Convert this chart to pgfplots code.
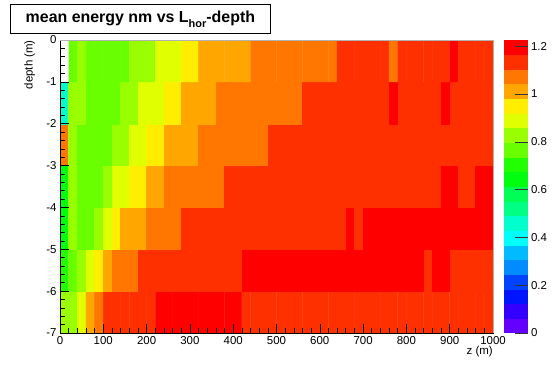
\documentclass[border=0pt]{standalone}
\usepackage{fontspec}
\setmainfont{Liberation Sans}
\usepackage{pgfplots}
\pgfplotsset{compat=1.18}

\pgfplotsset{
  every axis/.append style={/pgf/number format/assume math mode=true, /pgf/number format/1000 sep={}},
  every tick label/.append style={font=\fontsize{11.5}{12}\selectfont},
}

\begin{document}
\begin{tikzpicture}
\useasboundingbox (0,0) rectangle (552bp,374bp);
\begin{axis}[
  name=main,
  at={(60bp,41bp)}, anchor=south west,
  scale only axis, width=433bp, height=293bp,
  xmin=0, xmax=1000, ymin=-7, ymax=0,
  enlargelimits=false,
  axis on top,
  xtick={0,100,...,1000}, ytick={-7,-6,...,0},
  minor x tick num=4, minor y tick num=4,
  tick align=inside, xtick pos=bottom, ytick pos=left,
  major tick length=9bp, minor tick length=4.8bp,
  tick style={black, line width=0.6bp},
  axis line style={line width=0.7bp},
  label style={font=\fontsize{11.5}{12}\selectfont},
  xlabel={z (m)}, ylabel={depth (m)},
  xlabel style={at={(axis description cs:1,-0.045)}, anchor=north east, inner sep=0pt},
  ylabel style={at={(axis description cs:-0.057,1)}, anchor=south east, inner sep=0pt},
  colormap={root}{
    rgb255=(99,0,255) rgb255=(51,0,255) rgb255=(0,20,255) rgb255=(0,68,255)
    rgb255=(0,139,255) rgb255=(0,187,255) rgb255=(0,255,251) rgb255=(0,255,204)
    rgb255=(0,255,133) rgb255=(0,255,85) rgb255=(0,255,14) rgb255=(34,255,0)
    rgb255=(105,255,0) rgb255=(153,255,0) rgb255=(224,255,0) rgb255=(255,238,0)
    rgb255=(255,167,0) rgb255=(255,119,0) rgb255=(255,48,0) rgb255=(255,0,0)},
  colormap access=piecewise constant,
  point meta min=0, point meta max=1.226,
  colorbar,
  colorbar style={
    at={(parent axis.north east)}, anchor=north west, xshift=2bp,
    width=24bp,
    axis on top,
    ytick={0,0.2,0.4,0.6,0.8,1,1.2},
    minor y tick num=0,
    yticklabel pos=right, ytick pos=right,
    tick align=inside,
    major tick length=13bp,
    tick style={black!80, line width=0.6bp},
    axis line style={draw=none},
    yticklabel style={font=\fontsize{11.5}{12}\selectfont, /pgf/number format/assume math mode=true},
  },
]
\addplot[matrix plot*, mesh/cols=50, point meta=explicit] table[meta=c] {
x y c
10 -6.5 0.828
30 -6.5 0.828
50 -6.5 0.889
70 -6.5 1.011
90 -6.5 1.073
110 -6.5 1.134
130 -6.5 1.134
150 -6.5 1.134
170 -6.5 1.134
190 -6.5 1.134
210 -6.5 1.134
230 -6.5 1.195
250 -6.5 1.195
270 -6.5 1.195
290 -6.5 1.195
310 -6.5 1.195
330 -6.5 1.195
350 -6.5 1.195
370 -6.5 1.195
390 -6.5 1.195
410 -6.5 1.195
430 -6.5 1.134
450 -6.5 1.134
470 -6.5 1.134
490 -6.5 1.134
510 -6.5 1.134
530 -6.5 1.134
550 -6.5 1.134
570 -6.5 1.134
590 -6.5 1.134
610 -6.5 1.134
630 -6.5 1.134
650 -6.5 1.134
670 -6.5 1.134
690 -6.5 1.134
710 -6.5 1.134
730 -6.5 1.134
750 -6.5 1.134
770 -6.5 1.134
790 -6.5 1.134
810 -6.5 1.134
830 -6.5 1.134
850 -6.5 1.134
870 -6.5 1.134
890 -6.5 1.134
910 -6.5 1.134
930 -6.5 1.134
950 -6.5 1.134
970 -6.5 1.134
990 -6.5 1.134
10 -5.5 0.705
30 -5.5 0.766
50 -5.5 0.828
70 -5.5 0.889
90 -5.5 0.950
110 -5.5 1.011
130 -5.5 1.073
150 -5.5 1.073
170 -5.5 1.073
190 -5.5 1.134
210 -5.5 1.134
230 -5.5 1.134
250 -5.5 1.134
270 -5.5 1.134
290 -5.5 1.134
310 -5.5 1.134
330 -5.5 1.134
350 -5.5 1.134
370 -5.5 1.134
390 -5.5 1.134
410 -5.5 1.134
430 -5.5 1.195
450 -5.5 1.195
470 -5.5 1.195
490 -5.5 1.195
510 -5.5 1.195
530 -5.5 1.195
550 -5.5 1.195
570 -5.5 1.195
590 -5.5 1.195
610 -5.5 1.195
630 -5.5 1.195
650 -5.5 1.195
670 -5.5 1.195
690 -5.5 1.195
710 -5.5 1.195
730 -5.5 1.195
750 -5.5 1.195
770 -5.5 1.195
790 -5.5 1.195
810 -5.5 1.195
830 -5.5 1.195
850 -5.5 1.134
870 -5.5 1.195
890 -5.5 1.195
910 -5.5 1.134
930 -5.5 1.134
950 -5.5 1.134
970 -5.5 1.134
990 -5.5 1.134
10 -4.5 0.644
30 -4.5 0.828
50 -4.5 0.766
70 -4.5 0.766
90 -4.5 0.828
110 -4.5 0.889
130 -4.5 0.950
150 -4.5 1.011
170 -4.5 1.011
190 -4.5 1.011
210 -4.5 1.073
230 -4.5 1.073
250 -4.5 1.073
270 -4.5 1.073
290 -4.5 1.134
310 -4.5 1.134
330 -4.5 1.134
350 -4.5 1.134
370 -4.5 1.134
390 -4.5 1.134
410 -4.5 1.134
430 -4.5 1.134
450 -4.5 1.134
470 -4.5 1.134
490 -4.5 1.134
510 -4.5 1.134
530 -4.5 1.134
550 -4.5 1.134
570 -4.5 1.134
590 -4.5 1.134
610 -4.5 1.134
630 -4.5 1.134
650 -4.5 1.134
670 -4.5 1.195
690 -4.5 1.134
710 -4.5 1.195
730 -4.5 1.195
750 -4.5 1.195
770 -4.5 1.195
790 -4.5 1.195
810 -4.5 1.195
830 -4.5 1.195
850 -4.5 1.195
870 -4.5 1.195
890 -4.5 1.195
910 -4.5 1.195
930 -4.5 1.195
950 -4.5 1.195
970 -4.5 1.195
990 -4.5 1.195
10 -3.5 0.644
30 -3.5 0.828
50 -3.5 0.766
70 -3.5 0.766
90 -3.5 0.766
110 -3.5 0.828
130 -3.5 0.889
150 -3.5 0.889
170 -3.5 0.950
190 -3.5 0.950
210 -3.5 1.011
230 -3.5 1.011
250 -3.5 1.073
270 -3.5 1.073
290 -3.5 1.073
310 -3.5 1.073
330 -3.5 1.073
350 -3.5 1.073
370 -3.5 1.073
390 -3.5 1.134
410 -3.5 1.134
430 -3.5 1.134
450 -3.5 1.134
470 -3.5 1.134
490 -3.5 1.134
510 -3.5 1.134
530 -3.5 1.134
550 -3.5 1.134
570 -3.5 1.134
590 -3.5 1.134
610 -3.5 1.134
630 -3.5 1.134
650 -3.5 1.134
670 -3.5 1.134
690 -3.5 1.134
710 -3.5 1.134
730 -3.5 1.134
750 -3.5 1.134
770 -3.5 1.134
790 -3.5 1.134
810 -3.5 1.134
830 -3.5 1.134
850 -3.5 1.134
870 -3.5 1.134
890 -3.5 1.195
910 -3.5 1.195
930 -3.5 1.134
950 -3.5 1.134
970 -3.5 1.195
990 -3.5 1.195
10 -2.5 1.073
30 -2.5 0.828
50 -2.5 0.766
70 -2.5 0.766
90 -2.5 0.766
110 -2.5 0.766
130 -2.5 0.828
150 -2.5 0.828
170 -2.5 0.889
190 -2.5 0.889
210 -2.5 0.950
230 -2.5 0.950
250 -2.5 1.011
270 -2.5 1.011
290 -2.5 1.011
310 -2.5 1.011
330 -2.5 1.073
350 -2.5 1.073
370 -2.5 1.073
390 -2.5 1.073
410 -2.5 1.073
430 -2.5 1.073
450 -2.5 1.073
470 -2.5 1.073
490 -2.5 1.134
510 -2.5 1.134
530 -2.5 1.134
550 -2.5 1.134
570 -2.5 1.134
590 -2.5 1.134
610 -2.5 1.134
630 -2.5 1.134
650 -2.5 1.134
670 -2.5 1.134
690 -2.5 1.134
710 -2.5 1.134
730 -2.5 1.134
750 -2.5 1.134
770 -2.5 1.134
790 -2.5 1.134
810 -2.5 1.134
830 -2.5 1.134
850 -2.5 1.134
870 -2.5 1.134
890 -2.5 1.134
910 -2.5 1.134
930 -2.5 1.134
950 -2.5 1.134
970 -2.5 1.134
990 -2.5 1.134
10 -1.5 0.460
30 -1.5 0.828
50 -1.5 0.828
70 -1.5 0.766
90 -1.5 0.766
110 -1.5 0.766
130 -1.5 0.766
150 -1.5 0.828
170 -1.5 0.828
190 -1.5 0.889
210 -1.5 0.889
230 -1.5 0.889
250 -1.5 0.950
270 -1.5 0.950
290 -1.5 1.011
310 -1.5 1.011
330 -1.5 1.011
350 -1.5 1.011
370 -1.5 1.073
390 -1.5 1.073
410 -1.5 1.073
430 -1.5 1.073
450 -1.5 1.073
470 -1.5 1.073
490 -1.5 1.073
510 -1.5 1.073
530 -1.5 1.073
550 -1.5 1.073
570 -1.5 1.134
590 -1.5 1.134
610 -1.5 1.134
630 -1.5 1.134
650 -1.5 1.134
670 -1.5 1.134
690 -1.5 1.134
710 -1.5 1.134
730 -1.5 1.134
750 -1.5 1.134
770 -1.5 1.195
790 -1.5 1.134
810 -1.5 1.134
830 -1.5 1.134
850 -1.5 1.134
870 -1.5 1.134
890 -1.5 1.195
910 -1.5 1.134
930 -1.5 1.134
950 -1.5 1.134
970 -1.5 1.134
990 -1.5 1.134
10 -0.5 0.828
30 -0.5 0.766
50 -0.5 0.828
70 -0.5 0.766
90 -0.5 0.766
110 -0.5 0.766
130 -0.5 0.766
150 -0.5 0.766
170 -0.5 0.828
190 -0.5 0.828
210 -0.5 0.828
230 -0.5 0.889
250 -0.5 0.889
270 -0.5 0.889
290 -0.5 0.950
310 -0.5 0.950
330 -0.5 1.011
350 -0.5 1.011
370 -0.5 1.011
390 -0.5 1.011
410 -0.5 1.011
430 -0.5 1.011
450 -0.5 1.073
470 -0.5 1.073
490 -0.5 1.073
510 -0.5 1.073
530 -0.5 1.073
550 -0.5 1.073
570 -0.5 1.073
590 -0.5 1.073
610 -0.5 1.073
630 -0.5 1.073
650 -0.5 1.134
670 -0.5 1.134
690 -0.5 1.134
710 -0.5 1.134
730 -0.5 1.134
750 -0.5 1.134
770 -0.5 1.073
790 -0.5 1.134
810 -0.5 1.134
830 -0.5 1.134
850 -0.5 1.134
870 -0.5 1.134
890 -0.5 1.134
910 -0.5 1.195
930 -0.5 1.134
950 -0.5 1.134
970 -0.5 1.134
990 -0.5 1.134
};
% empty bin (no entries) at z<20, depth -1..0
\addplot[fill=white, draw=none] coordinates {(0,-1) (20,-1) (20,0) (0,0) (0,-1)};
\end{axis}
\draw[gray!60, line width=0.7bp] (main.north west) -- (main.north east) -- (main.south east);
\node[draw=black, line width=0.8bp, fill=white, minimum width=260bp, minimum height=29bp,
      anchor=north west, inner sep=0pt, font=\fontsize{16}{18}\selectfont\bfseries]
  at (10bp,370bp) {mean energy nm vs L\raisebox{-5bp}{\fontsize{11}{12}\selectfont hor}-depth};
\end{tikzpicture}
\end{document}
